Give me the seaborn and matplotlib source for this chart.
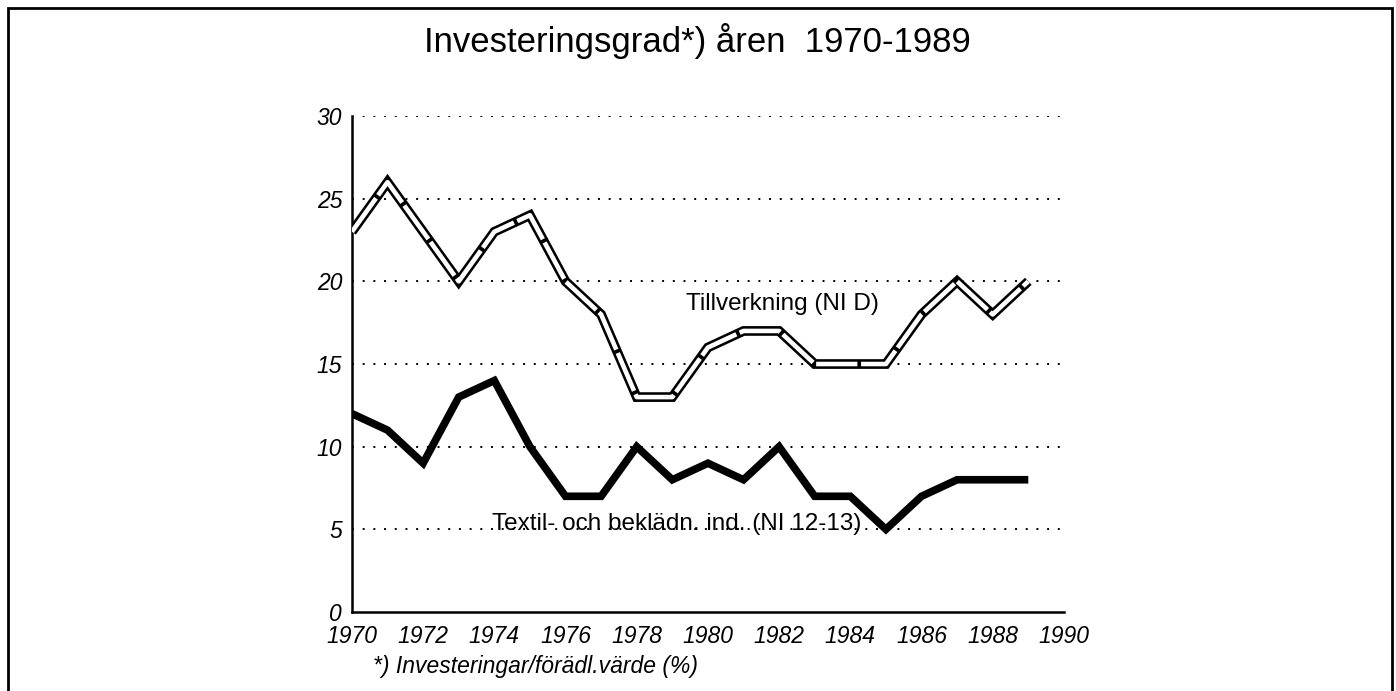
# Investeringsgrad 1970-1989: Tillverkning vs Textil- och beklädnadsindustri

import pandas as pd
import matplotlib.pyplot as plt
import seaborn as sns
from matplotlib.patches import Rectangle

years = list(range(1970, 1990))
tillverkning = [23, 26, 23, 20, 23, 24, 20, 18, 13, 13,
                16, 17, 17, 15, 15, 15, 18, 20, 18, 20]
textil = [12, 11, 9, 13, 14, 10, 7, 7, 10, 8,
          9, 8, 10, 7, 7, 5, 7, 8, 8, 8]
x_ticks = list(range(1970, 1991, 2))
y_ticks = [0, 5, 10, 15, 20, 25, 30]

df = pd.DataFrame({"year": years, "tillverkning": tillverkning, "textil": textil})

sns.set_style("white")
plt.rcParams["font.family"] = ["Liberation Sans", "DejaVu Sans"]
plt.rcParams["text.color"] = "black"

fig = plt.figure(figsize=(13.96, 6.91), dpi=100)
ax = fig.add_axes([0.2521, 0.1143, 0.5100, 0.7178])

# dotted reference lines
for y in y_ticks[1:]:
    ax.axhline(y, color="black", lw=1.4, linestyle=(0, (1, 4.5)), zorder=1)

# double (hollow) line for Tillverkning
sns.lineplot(data=df, x="year", y="tillverkning", ax=ax, color="black",
             lw=7, zorder=3, solid_joinstyle="miter", solid_capstyle="butt")
sns.lineplot(data=df, x="year", y="tillverkning", ax=ax, color="white",
             lw=3.3, zorder=4, linestyle=(0, (9, 0.8)), dash_capstyle="butt")
# thick black line for Textil
sns.lineplot(data=df, x="year", y="textil", ax=ax, color="black",
             lw=5.5, zorder=3, solid_joinstyle="miter", solid_capstyle="butt")

ax.set_xlim(1970, 1990)
ax.set_ylim(0, 30)
ax.set_xticks(x_ticks)
ax.set_yticks(y_ticks)
ax.set_xticklabels([str(t) for t in x_ticks], fontsize=16.5, style="italic")
ax.set_yticklabels([str(t) for t in y_ticks], fontsize=16.5, style="italic")
ax.set_xlabel("")
ax.set_ylabel("")
for s in ["top", "right"]:
    ax.spines[s].set_visible(False)
for s in ["left", "bottom"]:
    ax.spines[s].set_linewidth(1.8)
    ax.spines[s].set_color("black")
ax.tick_params(axis="both", direction="out", length=6, width=1.8,
               color="black", labelcolor="black")
ax.tick_params(axis="x", pad=3)
ax.tick_params(axis="y", pad=1)
ax.set_facecolor("none")

ax.text(1979.38, 18.6, "Tillverkning (NI D)", fontsize=17.5, ha="left", va="center")
ax.text(1973.93, 5.3, "Textil- och beklädn. ind. (NI 12-13)", fontsize=17.5,
        ha="left", va="center")

fig.text(0.4993, 0.940, "Investeringsgrad*) åren  1970-1989", fontsize=25,
         ha="center", va="center")
fig.text(0.2672, 0.035, "*) Investeringar/förädl.värde (%)", fontsize=16.5,
         style="italic", ha="left", va="center")

# page frame (open at bottom)
fig.patches.append(Rectangle((8 / 1396, -0.02), 1384 / 1396, 1 - 8 / 691 + 0.02,
                             transform=fig.transFigure, fill=False,
                             edgecolor="black", lw=2))

plt.savefig("out.png", dpi=100)
